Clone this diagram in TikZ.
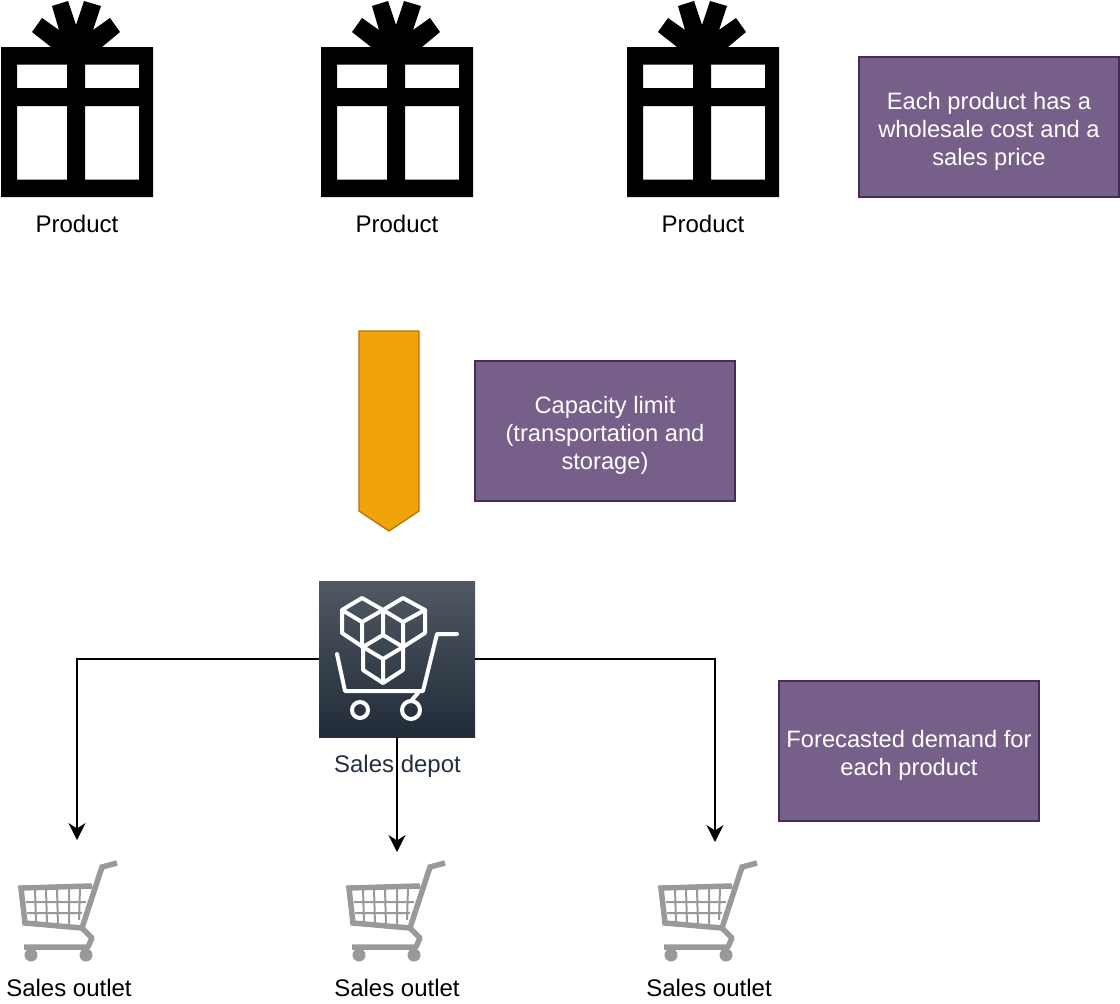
\documentclass[tikz,border=0pt]{standalone}
\usepackage{fontspec}
\setmainfont{Liberation Sans}
\usepackage{xcolor}
\usetikzlibrary{arrows.meta,positioning,calc}
\definecolor{notefill}{HTML}{76608A}
\definecolor{notedraw}{HTML}{432D57}
\definecolor{depottop}{HTML}{4F5863}
\definecolor{depotbot}{HTML}{222C38}
\definecolor{depottext}{HTML}{232F3E}
\definecolor{cartgray}{HTML}{999999}
\newcommand{\ntop}{\rule{0pt}{26pt}}
\tikzstyle{note}=[draw=notedraw,fill=notefill,text=white,line width=1.3pt,align=center,inner sep=0pt,font=\fontsize{23.7}{28}\selectfont]
\tikzstyle{iconlabel}=[font=\fontsize{24}{28}\selectfont,inner sep=0pt]
\tikzstyle{flow}=[line width=1.4pt,-{Stealth[length=17pt,width=17pt]}]
\tikzstyle{depotline}=[draw=white,line width=4pt,line join=round,line cap=round]
\tikzset{
gift/.pic={
\fill[black,even odd rule] (0,47) rectangle (152,197)
  (16,64.5) rectangle (66,88) (84,64.5) rectangle (138,88)
  (16,106) rectangle (66,179.5) (84,106) rectangle (138,179.5);
\fill[black] (50,47) -- (31,32) -- (41,18) -- (58,30) -- (51,6) -- (67,1) -- (75,25) -- (83,1) -- (100,6) -- (92,30) -- (109,18) -- (119,32) -- (101,47) -- cycle;
},
cart/.pic={
\draw[cartgray,line width=5.5pt,line join=miter] (117,863) -- (102,867) -- (82,928) -- (25,923) -- (21,888) -- (92,886);
\draw[cartgray,line width=2pt] (26,902) -- (86,902) (27,913) -- (82,913)
  (35,888) -- (36,924) (46,888) -- (47,925) (57,888) -- (58,926) (69,888) -- (69,927) (80,888) -- (79,920);
\draw[cartgray,line width=5.5pt,line join=round] (82,928) -- (92,938) -- (88,947) -- (24,947);
\fill[cartgray] (31,955) circle (6.5) (86,955) circle (6.5);
}}
\begin{document}
\begin{tikzpicture}[x=1pt,y=-1pt]
\useasboundingbox (0,0) rectangle (1120,1004);
\foreach \n/\x in {1/1,2/321,3/627}{
\pic at (\x,0) {gift};
\node[iconlabel] (product\n) at (\x+76,224) {Product};
}
\node[note,minimum width=260pt,minimum height=140pt] (notecost) at (989,127) {\ntop Each product has a\\wholesale cost and a\\sales price};
\node[note,minimum width=260pt,minimum height=140pt] (notecap) at (605,431) {\ntop Capacity limit\\(transportation and\\storage)};
\node[note,minimum width=260pt,minimum height=140pt] (notedemand) at (909,751) {\ntop Forecasted demand for\\each product};
\draw[draw={rgb,255:red,189;green,112;blue,0},fill={rgb,255:red,240;green,163;blue,10},line width=1.3pt] (359,331) -- (419,331) -- (419,511) -- (389,531) -- (359,511) -- cycle;
\node[minimum size=156pt,inner sep=0pt,top color=depottop,bottom color=depotbot] (depot) at (397,659) {};
\draw[depotline] (342,610) -- (362,598) -- (383,610) -- (403,598) -- (425,610) -- (425,633) -- (403,647) -- (403,670) -- (383,683) -- (363,670) -- (363,647) -- (342,633) -- cycle
  (342,610) -- (362,622) -- (383,610) -- (403,622) -- (425,610)
  (362,622) -- (362,647) (403,622) -- (403,647) (383,610) -- (383,635)
  (363,647) -- (383,635) -- (403,647) (363,647) -- (383,659) -- (403,647) (383,659) -- (383,683);
\draw[depotline] (337,654) -- (345,691) -- (423,691) -- (437,634) -- (457,634);
\draw[depotline] (411,701) -- (418,693);
\draw[depotline] (360,710) circle (8);
\draw[depotline] (411,710) circle (9);
\node[iconlabel,text=depottext] (depotlabel) at (397.5,766) {Sales depot};
\coordinate (outlet1) at (77,840);
\coordinate (outlet2) at (397,852);
\coordinate (outlet3) at (715,842);
\draw[flow] (depot.west) -| (outlet1);
\draw[flow] (depot.south) -- (outlet2);
\draw[flow] (depot.east) -| (outlet3);
\foreach \n/\x/\l in {1/0/69,2/328/397,3/640/709}{
\pic at (\x,0) {cart};
\node[iconlabel] (sales\n) at (\l,988) {Sales outlet};
}
\end{tikzpicture}
\end{document}
